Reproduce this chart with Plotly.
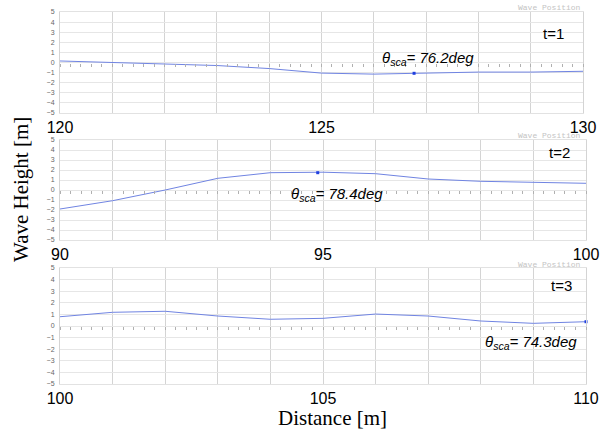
import plotly.graph_objects as go

W, H = 607, 430

# ---- data ----
x1 = [120, 121, 122, 123, 124, 125, 126, 127, 128, 129, 130]
y1 = [0.15, 0.0, -0.1, -0.3, -0.6, -1.05, -1.15, -1.03, -0.95, -0.95, -0.87]
x2 = [90, 91, 92, 93, 94, 95, 96, 97, 98, 99, 100]
y2 = [-1.9, -1.07, 0.0, 1.17, 1.73, 1.78, 1.63, 1.1, 0.87, 0.77, 0.67]
x3 = [100, 101, 102, 103, 104, 105, 106, 107, 108, 109, 110]
y3 = [0.8, 1.18, 1.27, 0.86, 0.58, 0.66, 1.03, 0.86, 0.43, 0.23, 0.37]

dot_x = [126.77, 94.9, 110]
dot_y = [-1.07, 1.73, 0.37]

theta_labels = ["76.2", "78.4", "74.3"]
t_labels = ["t=1", "t=2", "t=3"]
xticks = [[120, 125, 130], [90, 95, 100], [100, 105, 110]]

# ---- layout helpers (pixel -> paper) ----
def px_x(p):
    return p / W

def px_y(p):
    return 1 - p / H

panels = [
    dict(xs=x1, ys=y1, xd=[px_x(60), px_x(583)], yd=[px_y(113), px_y(12)]),
    dict(xs=x2, ys=y2, xd=[px_x(60), px_x(586)], yd=[px_y(240), px_y(140)]),
    dict(xs=x3, ys=y3, xd=[px_x(60), px_x(586)], yd=[px_y(384), px_y(268)]),
]

fig = go.Figure()
layout = dict(
    width=W, height=H, autosize=False,
    margin=dict(l=0, r=0, t=0, b=0, autoexpand=False),
    paper_bgcolor="white", plot_bgcolor="white",
    showlegend=False,
    font=dict(family="Liberation Sans, Arial", color="black"),
)

line_color = "#7084e2"
dot_color = "#1f3fe0"
annotations = []

for i, p in enumerate(panels):
    n = i + 1
    xa = "x" if n == 1 else f"x{n}"
    ya = "y" if n == 1 else f"y{n}"
    xa_key = "xaxis" if n == 1 else f"xaxis{n}"
    ya_key = "yaxis" if n == 1 else f"yaxis{n}"
    tick_ax_n = n + 3
    tick_xa = f"x{tick_ax_n}"
    tick_xa_key = f"xaxis{tick_ax_n}"

    xs, ys = p["xs"], p["ys"]
    lo, hi = xs[0], xs[-1]

    fig.add_trace(go.Scatter(
        x=xs, y=ys, mode="lines", xaxis=xa, yaxis=ya,
        line=dict(color=line_color, width=1), hoverinfo="skip"))
    fig.add_trace(go.Scatter(
        x=[dot_x[i]], y=[dot_y[i]], mode="markers", xaxis=xa, yaxis=ya,
        marker=dict(color=dot_color, size=3, symbol="square"),
        cliponaxis=False, hoverinfo="skip"))
    # invisible trace to activate the zero-line tick axis
    fig.add_trace(go.Scatter(
        x=[lo], y=[0], mode="markers", xaxis=tick_xa, yaxis=ya,
        marker=dict(opacity=0), hoverinfo="skip"))

    layout[xa_key] = dict(
        domain=p["xd"], anchor=ya, range=[lo, hi], automargin=False,
        tickmode="array", tickvals=xticks[i],
        ticktext=[str(v) for v in xticks[i]],
        tickfont=dict(size=16, family="Liberation Sans, Arial", color="black"),
        showgrid=True, gridcolor="#d4d4d4", gridwidth=1,
        minor=dict(dtick=1, tick0=lo, showgrid=True, gridcolor="#d4d4d4", gridwidth=1),
        showline=True, linecolor="#e2e2e2", linewidth=1, mirror=True,
        zeroline=False, ticks="",
    )
    layout[ya_key] = dict(
        domain=p["yd"], anchor=xa, range=[-5, 5], automargin=False,
        tickmode="linear", tick0=-5, dtick=1,
        tickfont=dict(size=7, color="#666666"),
        showgrid=True, gridcolor="#e6e6e6", gridwidth=1,
        showline=True, linecolor="#d4d4d4", linewidth=1, mirror=True,
        zeroline=False, ticks="", ticklabelstandoff=3,
    )
    zero_pos = p["yd"][0] + (p["yd"][1] - p["yd"][0]) * 0.5
    layout[tick_xa_key] = dict(
        overlaying=xa, anchor="free", position=zero_pos, automargin=False,
        range=[lo, hi], tickmode="linear", tick0=lo, dtick=0.2,
        ticks="outside", ticklen=3, tickwidth=1, tickcolor="#b0b0b0",
        showticklabels=False, showgrid=False, zeroline=False, showline=False,
    )

    # "Wave Position" small caption
    wp_y = [7, 136, 264][i]
    annotations.append(dict(
        text="Wave Position", xref="paper", yref="paper",
        x=px_x(549), y=px_y(wp_y), xanchor="center", yanchor="middle",
        showarrow=False, font=dict(family="Liberation Mono, DejaVu Sans Mono", size=8, color="#c4c4c4")))
    # t=n label
    tx = [553, 559, 561][i]
    ty = [33, 152, 285][i]
    annotations.append(dict(
        text=t_labels[i], xref="paper", yref="paper",
        x=px_x(tx), y=px_y(ty), xanchor="center", yanchor="middle",
        showarrow=False, font=dict(size=15, color="black")))
    # theta annotation
    thx = [380, 289, 483][i]
    thy = [58, 195, 342][i]
    annotations.append(dict(
        text=f"<i>θ<sub>sca</sub>= {theta_labels[i]}deg</i>",
        xref="paper", yref="paper",
        x=px_x(thx), y=px_y(thy), xanchor="left", yanchor="middle",
        showarrow=False, font=dict(size=15, color="black")))

annotations.append(dict(
    text="Wave Height [m]", xref="paper", yref="paper",
    x=px_x(21), y=px_y(190), xanchor="center", yanchor="middle",
    textangle=-90, showarrow=False,
    font=dict(family="Liberation Serif, Times New Roman", size=21, color="black")))
annotations.append(dict(
    text="Distance [m]", xref="paper", yref="paper",
    x=px_x(333), y=px_y(418), xanchor="center", yanchor="middle",
    showarrow=False,
    font=dict(family="Liberation Serif, Times New Roman", size=21, color="black")))

layout["annotations"] = annotations
fig.update_layout(**layout)
fig.write_html(
    "out.html",
    config={"displayModeBar": False},
    post_script="document.body.style.margin='0';document.body.style.overflow='hidden';",
)
